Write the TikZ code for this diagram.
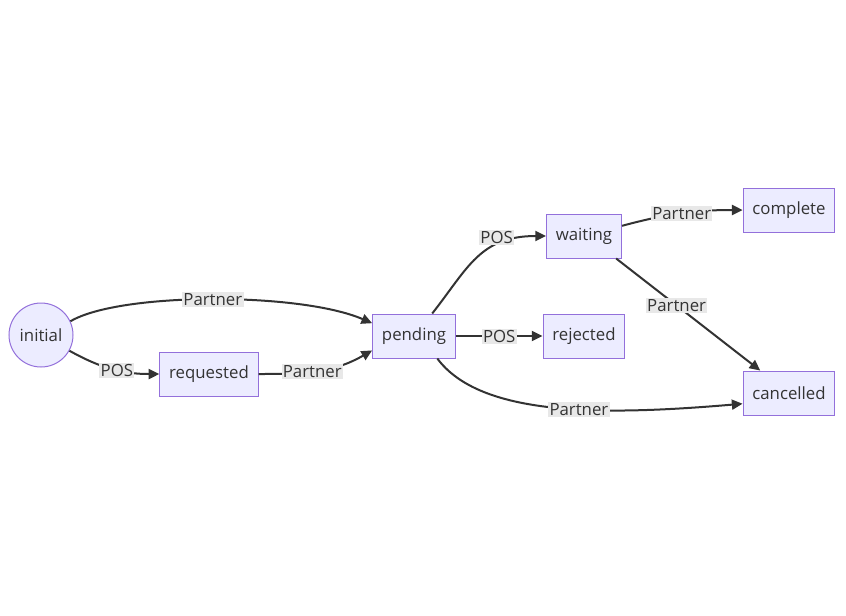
\documentclass[tikz,border=0pt]{standalone}
\usepackage{fontspec}
\setmainfont{Open Sans}
\usetikzlibrary{arrows.meta}
\definecolor{stateFill}{HTML}{ECECFF}
\definecolor{stateLine}{HTML}{9370DB}
\definecolor{edgeLine}{HTML}{333333}
\definecolor{labelFill}{HTML}{E8E8E8}
\begin{document}
\begin{tikzpicture}[x=0.75pt,y=0.75pt,font=\fontsize{12.6}{15}\selectfont,text=edgeLine,
state/.style={draw=stateLine,fill=stateFill,line width=.75pt,minimum height=33pt,inner xsep=7pt},
start/.style={circle,draw=stateLine,fill=stateFill,line width=.75pt,minimum size=48pt,inner sep=0pt},
arrow/.style={-{Triangle[length=8pt,width=7.5pt]},line width=1.5pt,draw=edgeLine},
lbl/.style={fill=labelFill,inner sep=1pt,text=edgeLine}]
\useasboundingbox (0,0) rectangle (846,-615);
\node[start] (initial) at (41,-335) {initial};
\node[state] (requested) at (209,-374) {requested};
\node[state] (pending) at (414,-336) {pending};
\node[state] (waiting) at (584,-236) {waiting};
\node[state] (rejected) at (584,-336) {rejected};
\node[state] (complete) at (789,-210) {complete};
\node[state] (cancelled) at (789,-393) {cancelled};

\draw[arrow] (initial.25) .. controls (120,-292) and (300,-292) .. node[lbl] (lInitPend) {Partner} (pending.163);
\draw[arrow] (initial.-29) to[out=-29,in=180] node[lbl,pos=.55] (lInitReq) {POS} (requested.west);
\draw[arrow] (requested.east) to[out=0,in=210] node[lbl,pos=.45] (lReqPend) {Partner} (pending.199);
\draw[arrow] (pending.51) .. controls (468,-268) and (480,-236) .. node[lbl,pos=.68,yshift=6pt] (lPendWait) {POS} (waiting.west);
\draw[arrow] (pending.east) -- node[lbl] (lPendRej) {POS} (rejected.west);
\draw[arrow] (pending.-44) .. controls (480,-416) and (600,-416) .. node[lbl,pos=.58] (lPendCanc) {Partner} (cancelled.193);
\draw[arrow] (waiting.15) to[out=15,in=180] node[lbl,pos=.5] (lWaitComp) {Partner} (complete.west);
\draw[arrow] (waiting.-35) -- node[lbl,pos=.42] (lWaitCanc) {Partner} (cancelled.142);
\end{tikzpicture}
\end{document}
